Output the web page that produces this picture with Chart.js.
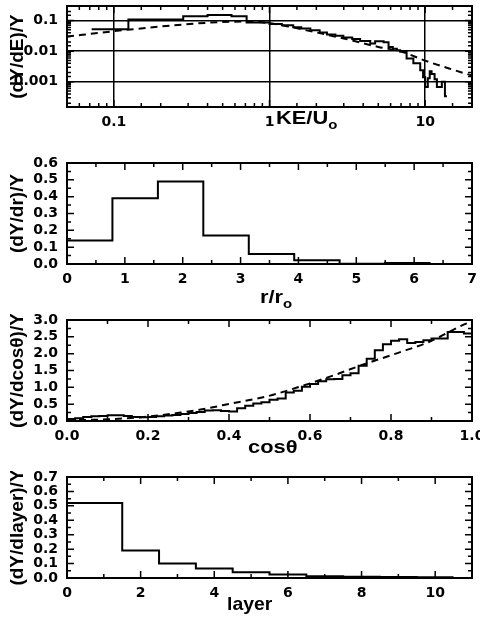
<!DOCTYPE html>
<html lang="en">
<head>
<meta charset="UTF-8" />
<title>Yield distributions</title>
<script src="https://cdn.jsdelivr.net/npm/chart.js"></script>
<style>
  body { margin: 0; background: #fff; width: 480px; height: 618px; position: relative; overflow: hidden; }
  canvas { position: absolute; left: 0; }
  .xt {
    position: absolute;
    font-family: 'Liberation Sans', Arial, sans-serif;
    font-weight: bold;
    font-size: 19px;
    line-height: 1;
    color: #000;
    white-space: nowrap;
    transform-origin: left top;
    transform: scaleX(1.15);
  }
  .xt sub { font-size: 13px; vertical-align: -5px; line-height: 0; }
</style>
</head>
<body>
<canvas id="keChart" width="480" height="157" style="top:0px"></canvas>
<canvas id="rChart" width="480" height="157" style="top:157px"></canvas>
<canvas id="cosChart" width="480" height="157" style="top:314px"></canvas>
<canvas id="layerChart" width="480" height="157" style="top:471px"></canvas>

<div class="xt" style="left:276px;top:108px">KE/U<sub>o</sub></div>
<div class="xt" style="left:260px;top:287px">r/r<sub>o</sub></div>
<div class="xt" style="left:248px;top:437px">cosθ</div>
<div class="xt" style="left:227px;top:594px;transform:scaleX(1.02)">layer</div>

<script>
  // kinetic energy spectrum (histogram edges + yield per bin) and fit curve
  const keEdges = [0.072, 0.124, 0.279, 0.40, 0.57, 0.713, 1.0, 1.2, 1.42, 1.6, 1.83, 2.1, 2.34, 2.65, 2.98, 3.4,
                   3.82, 4.44, 4.77, 5.41, 5.82, 6.2, 6.58, 6.9, 7.6, 8.4, 9.3, 9.7, 10.0, 10.4, 10.7, 11.0, 11.5,
                   11.9, 12.2, 12.8, 13.0, 13.4, 13.8];
  const keYield = [0.052, 0.108, 0.138, 0.152, 0.138, 0.086, 0.078, 0.07, 0.061, 0.055, 0.048, 0.041, 0.035, 0.032,
                   0.028, 0.025, 0.0215, 0.0177, 0.021, 0.0195, 0.0138, 0.012, 0.0108, 0.0098, 0.0058, 0.004, 0.0024,
                   0.0014, 0.00068, 0.0013, 0.0022, 0.0018, 0.0012, 0.00068, 0.00068, 0.001, 0.001, 0.00034];
  const keFitX = [0.05, 0.1, 0.2, 0.4, 0.7, 1.0, 2.0, 3.0, 5.0, 7.0, 10, 15, 20];
  const keFitY = [0.030, 0.045, 0.064, 0.085, 0.093, 0.082, 0.041, 0.026, 0.0138, 0.0098, 0.0049, 0.0025, 0.0016];

  // radial distribution
  const rEdges = [0, 0.785, 1.571, 2.356, 3.142, 3.927, 4.712, 5.498, 6.283];
  const rYield = [0.14, 0.39, 0.49, 0.17, 0.06, 0.022, 0.002, 0.006];

  // angular distribution
  const cosEdges = [0, 0.02, 0.04, 0.06, 0.08, 0.10, 0.12, 0.14, 0.16, 0.18, 0.20, 0.22, 0.24, 0.26, 0.28, 0.30,
                    0.32, 0.34, 0.36, 0.38, 0.40, 0.42, 0.44, 0.46, 0.48, 0.50, 0.52, 0.54, 0.56, 0.58, 0.60, 0.62,
                    0.64, 0.66, 0.68, 0.70, 0.72, 0.74, 0.76, 0.78, 0.80, 0.82, 0.84, 0.86, 0.88, 0.90, 0.92, 0.94,
                    0.96, 0.98, 1.00];
  const cosYield = [0.06, 0.08, 0.12, 0.14, 0.15, 0.17, 0.17, 0.15, 0.12, 0.11, 0.12, 0.14, 0.16, 0.18, 0.21, 0.24,
                    0.27, 0.31, 0.32, 0.30, 0.28, 0.38, 0.45, 0.52, 0.56, 0.63, 0.67, 0.85, 0.90, 1.02, 1.10, 1.18,
                    1.24, 1.25, 1.36, 1.42, 1.64, 1.85, 2.10, 2.28, 2.38, 2.43, 2.32, 2.35, 2.40, 2.45, 2.45, 2.64,
                    2.64, 2.60];
  const cosFitX = [0, 0.1, 0.2, 0.28, 0.33, 0.41, 0.49, 0.575, 0.657, 0.73, 0.814, 0.896, 0.987, 1.0];
  const cosFitY = [0.02, 0.05, 0.13, 0.25, 0.34, 0.53, 0.72, 1.02, 1.35, 1.67, 2.01, 2.36, 2.9, 2.95];

  // layer distribution
  const layerEdges = [0, 1.5, 2.5, 3.5, 4.5, 5.5, 6.5, 7.5, 8.5, 9.5, 10.5];
  const layerYield = [0.52, 0.19, 0.10, 0.065, 0.04, 0.025, 0.012, 0.009, 0.007, 0.005];

  Chart.defaults.color = '#000';
  Chart.defaults.font.family = "'DejaVu Sans', sans-serif";

  function steps(edges, vals) {
    const pts = vals.map((v, i) => ({ x: edges[i], y: v }));
    pts.push({ x: edges[edges.length - 1], y: vals[vals.length - 1] });
    return pts;
  }
  function curve(xs, ys) {
    return xs.map((x, i) => ({ x: x, y: ys[i] }));
  }
  function isDecade(v) {
    const l = Math.log10(v);
    return Math.abs(l - Math.round(l)) < 1e-6;
  }
  function onStep(v, step) {
    return Math.abs(v / step - Math.round(v / step)) < 1e-6;
  }
  function every(min, max, step) {
    const out = [];
    for (let i = 0; min + i * step <= max + 1e-9; i++) out.push({ value: +(min + i * step).toFixed(6) });
    return out;
  }

  // inward ticks on all four sides + box
  const frame = {
    id: 'frame',
    afterDatasetsDraw(chart) {
      const { ctx, chartArea: a, scales } = chart;
      ctx.save();
      ctx.strokeStyle = '#000';
      ctx.lineWidth = 1.5;
      ctx.beginPath();
      scales.x.ticks.forEach(t => {
        const p = scales.x.getPixelForValue(t.value);
        const len = t.label ? 7 : 4;
        ctx.moveTo(p, a.bottom); ctx.lineTo(p, a.bottom - len);
        ctx.moveTo(p, a.top); ctx.lineTo(p, a.top + len);
      });
      scales.y.ticks.forEach(t => {
        const p = scales.y.getPixelForValue(t.value);
        const len = t.label ? 7 : 4;
        ctx.moveTo(a.left, p); ctx.lineTo(a.left + len, p);
        ctx.moveTo(a.right, p); ctx.lineTo(a.right - len, p);
      });
      ctx.stroke();
      ctx.lineWidth = 2;
      ctx.strokeRect(a.left, a.top, a.right - a.left, a.bottom - a.top);
      ctx.restore();
    }
  };

  const tickFont = { size: 14, weight: 'bold', family: "'DejaVu Sans', sans-serif" };
  const titleFont = { size: 19, weight: 'bold', family: "'Liberation Sans', Arial, sans-serif" };

  // fixed axis boxes so every panel gets the same plot rectangle
  function fitX(s) { s.height = 50; s.paddingLeft = 0; s.paddingRight = 0; }
  function fitY(s) { s.width = 67; s.paddingTop = 0; s.paddingBottom = 0; }

  function xAxis(extra) {
    return Object.assign({
      type: 'linear',
      border: { display: false },
      grid: { display: false, drawTicks: false },
      afterFit: fitX
    }, extra);
  }
  function yAxis(title, extra) {
    return Object.assign({
      type: 'linear',
      border: { display: false },
      grid: { display: false, drawTicks: false },
      title: { display: true, text: title, font: titleFont, padding: { top: 6, bottom: 0 } },
      afterFit: fitY
    }, extra);
  }
  function xTicks(cb) { return { font: tickFont, padding: 7, autoSkip: false, maxRotation: 0, callback: cb }; }
  function yTicks(cb) { return { font: tickFont, padding: 9, autoSkip: false, callback: cb }; }

  function makeChart(id, datasets, scales) {
    return new Chart(document.getElementById(id), {
      type: 'line',
      data: { datasets: datasets },
      options: {
        responsive: false,
        animation: false,
        devicePixelRatio: 1,
        layout: { padding: { top: 6, right: 8, left: 0, bottom: 0 } },
        plugins: { legend: { display: false }, tooltip: { enabled: false } },
        elements: { point: { radius: 0 } },
        scales: scales
      },
      plugins: [frame]
    });
  }

  const histStyle = { borderColor: '#000', borderWidth: 2, stepped: 'before', fill: false };
  const fitStyle = { borderColor: '#000', borderWidth: 2, borderDash: [7, 5], fill: false, cubicInterpolationMode: 'monotone' };

  const decadeGrid = {
    display: true,
    drawTicks: false,
    lineWidth: 1.5,
    color: c => (c.tick && isDecade(c.tick.value)) ? '#000' : 'rgba(0,0,0,0)'
  };

  // panel 1: energy spectrum (log-log)
  makeChart('keChart', [
    Object.assign({ data: steps(keEdges, keYield) }, histStyle),
    Object.assign({ data: curve(keFitX, keFitY) }, fitStyle)
  ], {
    x: xAxis({ type: 'logarithmic', min: 0.05, max: 20, grid: decadeGrid,
               ticks: xTicks(v => isDecade(v) ? String(v) : '') }),
    y: yAxis('(dY/dE)/Y', { type: 'logarithmic', min: 0.00015, max: 0.3, grid: decadeGrid,
               ticks: yTicks(v => isDecade(v) ? String(v) : '') })
  });

  // panel 2: radial distribution
  makeChart('rChart', [
    Object.assign({ data: steps(rEdges, rYield) }, histStyle)
  ], {
    x: xAxis({ min: 0, max: 7, afterBuildTicks: s => { s.ticks = every(0, 7, 0.5); },
               ticks: xTicks(v => onStep(v, 1) ? String(Math.round(v)) : '') }),
    y: yAxis('(dY/dr)/Y', { min: 0, max: 0.6, afterBuildTicks: s => { s.ticks = every(0, 0.6, 0.05); },
               ticks: yTicks(v => onStep(v, 0.1) ? v.toFixed(1) : '') })
  });

  // panel 3: angular distribution
  makeChart('cosChart', [
    Object.assign({ data: steps(cosEdges, cosYield) }, histStyle),
    Object.assign({ data: curve(cosFitX, cosFitY) }, fitStyle)
  ], {
    x: xAxis({ min: 0, max: 1, afterBuildTicks: s => { s.ticks = every(0, 1, 0.1); },
               ticks: xTicks(v => onStep(v, 0.2) ? v.toFixed(1) : '') }),
    y: yAxis('(dY/dcosθ)/Y', { min: 0, max: 3, afterBuildTicks: s => { s.ticks = every(0, 3, 0.25); },
               ticks: yTicks(v => onStep(v, 0.5) ? v.toFixed(1) : '') })
  });

  // panel 4: layer distribution
  makeChart('layerChart', [
    Object.assign({ data: steps(layerEdges, layerYield) }, histStyle)
  ], {
    x: xAxis({ min: 0, max: 11, afterBuildTicks: s => { s.ticks = every(0, 11, 1); },
               ticks: xTicks(v => onStep(v, 2) ? String(Math.round(v)) : '') }),
    y: yAxis('(dY/dlayer)/Y', { min: 0, max: 0.7, afterBuildTicks: s => { s.ticks = every(0, 0.7, 0.05); },
               ticks: yTicks(v => onStep(v, 0.1) ? v.toFixed(1) : '') })
  });
</script>
</body>
</html>
